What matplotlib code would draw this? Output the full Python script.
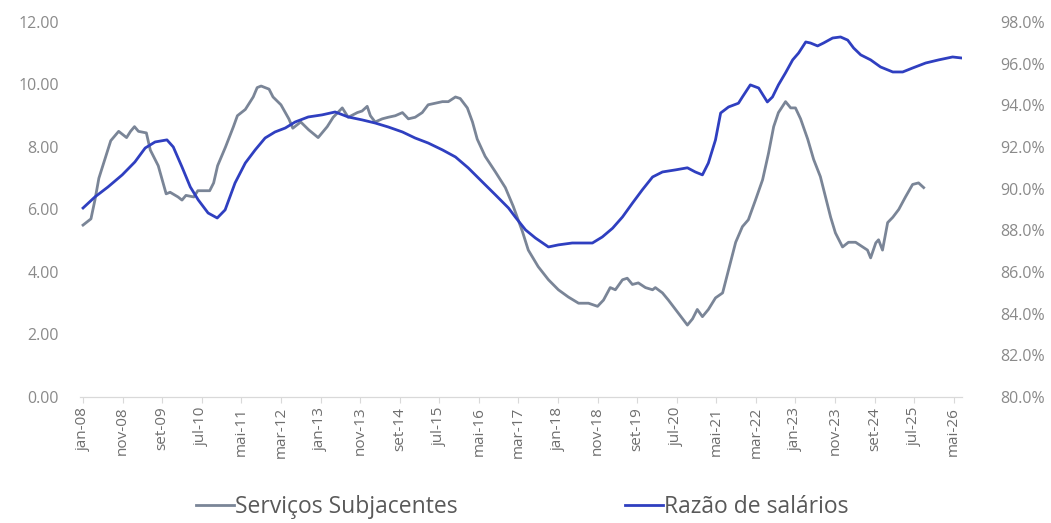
import matplotlib
matplotlib.use("Agg")
import matplotlib.pyplot as plt
from matplotlib.ticker import FuncFormatter

plt.rcParams["font.family"] = ["Open Sans", "DejaVu Sans"]

# month offsets from jan-08
servicos_x = [0, 2, 3, 4, 6, 7, 9, 10, 11, 12, 13, 14, 16, 17, 19, 20, 21, 22, 24, 25,
              26, 28, 29, 30, 32, 33, 34, 36, 38, 39, 41, 43, 44, 45, 47, 48, 50, 52, 53, 55,
              57, 59.4, 61.7, 63.2, 65.5, 67, 69.3, 70.5, 71.8, 72.6, 73.8, 75.6, 77.1, 78.9,
              80.7, 82.2, 83.9, 85.7, 87.2, 89, 90.8, 92.3, 94.1, 95.3, 97.1, 98.4, 99.6,
              101.6, 104.2, 106.7, 108.7, 111, 112.5, 115, 117.6, 120.1, 122.6, 125.2, 127.7,
              130, 131.5, 133.2, 134.5, 136.3, 137.5, 138.8, 140.3, 142.1, 143.9, 144.6,
              146.4, 147.9, 149.7, 151.5, 152.7, 154, 155.2, 156.5, 158, 159.8, 161.6, 163.1,
              164.9, 166.6, 168.1, 169.9, 171.7, 173.2, 174.5, 175.7, 177.5, 178.8, 180,
              181.3, 183.1, 184.6, 186.3, 187.6, 188.9, 190.1, 191.9, 193.4, 195.2, 197,
              198.2, 199, 200.3, 201, 202, 203.3, 204.6, 206.1, 207.8, 209.6, 211.1, 212.4]
servicos = [5.5, 5.7, 6.3, 7.0, 7.8, 8.2, 8.5, 8.4, 8.3, 8.5, 8.65, 8.5, 8.45, 7.9, 7.4, 6.95,
            6.5, 6.55, 6.4, 6.3, 6.45, 6.4, 6.6, 6.6, 6.6, 6.85, 7.4, 8.0, 8.65, 9.0, 9.2, 9.6,
            9.9, 9.95, 9.85, 9.6, 9.35, 8.9, 8.6, 8.8, 8.55, 8.3, 8.65, 8.95, 9.25, 8.95, 9.1,
            9.15, 9.3, 9.0, 8.8, 8.9, 8.95, 9.0, 9.1, 8.9, 8.95, 9.1, 9.35, 9.4, 9.45, 9.45,
            9.6, 9.55, 9.25, 8.8, 8.25, 7.7, 7.2, 6.7, 6.1, 5.3, 4.7, 4.17, 3.75, 3.43, 3.2,
            3.0, 3.0, 2.9, 3.1, 3.5, 3.43, 3.75, 3.8, 3.6, 3.65, 3.5, 3.43, 3.5, 3.33, 3.1,
            2.8, 2.5, 2.3, 2.5, 2.8, 2.57, 2.8, 3.17, 3.33, 4.07, 4.95, 5.45, 5.67, 6.3, 6.95,
            7.8, 8.65, 9.1, 9.45, 9.25, 9.25, 8.9, 8.25, 7.6, 7.05, 6.4, 5.75, 5.25, 4.8,
            4.95, 4.95, 4.8, 4.7, 4.45, 4.93, 5.03, 4.7, 5.58, 5.75, 6.0, 6.4, 6.8, 6.85, 6.7]

salarios_x = [0, 3, 6.3, 9.9, 13.1, 15.7, 18.2, 21.2, 22.8, 25, 27.1, 29.1, 31.6, 33.9, 35.9,
              38.4, 41, 43.5, 46, 48.5, 51.1, 53.6, 56.9, 60.4, 63.7, 67, 70.5, 73.8, 77.1,
              80.7, 83.9, 87.2, 90.8, 94.1, 97.3, 100.9, 104.2, 107.5, 109.2, 111.8, 114.3,
              117.6, 120.1, 123.6, 126.2, 128.7, 131.2, 133.8, 136.3, 138.8, 141.3, 143.9,
              146.4, 149.7, 152.7, 154.7, 156.5, 158, 159.8, 161.1, 163.1, 165.6, 166.6,
              168.6, 170.7, 172.9, 174.2, 175.7, 177.5, 179.3, 180.8, 182.6, 183.8, 185.6,
              187.1, 189.4, 191.4, 193.2, 194.7, 196.5, 199, 201.5, 204.6, 207.1, 209.6,
              212.9, 216.2, 219.7, 222]
salarios = [89.07, 89.6, 90.08, 90.66, 91.28, 91.95, 92.24, 92.34, 92.0, 91.04, 90.08, 89.46,
            88.83, 88.59, 88.98, 90.27, 91.23, 91.86, 92.43, 92.72, 92.91, 93.2, 93.44, 93.54,
            93.68, 93.44, 93.3, 93.15, 92.96, 92.72, 92.43, 92.19, 91.86, 91.52, 91.0, 90.32,
            89.7, 89.07, 88.64, 88.02, 87.63, 87.2, 87.3, 87.39, 87.39, 87.39, 87.68, 88.1,
            88.64, 89.3, 89.94, 90.56, 90.8, 90.9, 91.0, 90.8, 90.66, 91.23, 92.34, 93.63,
            93.92, 94.1, 94.4, 94.98, 94.83, 94.16, 94.4, 94.98, 95.56, 96.18, 96.51, 97.04,
            96.99, 96.85, 96.99, 97.23, 97.28, 97.13, 96.75, 96.42, 96.18, 95.84, 95.6, 95.6,
            95.79, 96.03, 96.18, 96.32, 96.27]

tick_pos = list(range(0, 221, 10))
tick_labels = ["jan-08", "nov-08", "set-09", "jul-10", "mai-11", "mar-12", "jan-13",
               "nov-13", "set-14", "jul-15", "mai-16", "mar-17", "jan-18", "nov-18",
               "set-19", "jul-20", "mai-21", "mar-22", "jan-23", "nov-23", "set-24",
               "jul-25", "mai-26"]

grey = "#7a8597"
blue = "#2f3fc0"
tick_col = "#8a8a8a"

fig = plt.figure(figsize=(10.51, 5.23), dpi=100)
ax = fig.add_axes([0.076, 0.241, 0.839, 0.717])
ax2 = ax.twinx()

l1, = ax.plot(servicos_x, servicos, color=grey, lw=2.0, label="Serviços Subjacentes")
l2, = ax2.plot(salarios_x, salarios, color=blue, lw=2.0, label="Razão de salários")

ax.set_ylim(0, 12)
ax.set_yticks(range(0, 13, 2))
ax.yaxis.set_major_formatter(FuncFormatter(lambda v, p: f"{v:.2f}"))
ax2.set_ylim(80, 98)
ax2.set_yticks(range(80, 99, 2))
ax2.yaxis.set_major_formatter(FuncFormatter(lambda v, p: f"{v:.1f}%"))

ax.set_xlim(-0.8, 222)
ax.set_xticks(tick_pos)
ax.set_xticklabels(tick_labels, rotation=90)

for a in (ax, ax2):
    for s in ["top", "left", "right"]:
        a.spines[s].set_visible(False)
    a.spines["bottom"].set_color("#d9d9d9")
    a.tick_params(axis="y", length=0, labelsize=11.5, labelcolor=tick_col)
ax.tick_params(axis="y", pad=15)
ax2.tick_params(axis="y", pad=28)
ax.tick_params(axis="x", length=4, color="#d9d9d9", labelsize=11,
               labelcolor="#6e6e6e", pad=3)

fig.legend(handles=[l1, l2], loc="lower center", bbox_to_anchor=(0.497, -0.032),
           ncol=2, frameon=False, fontsize=16.5, handlelength=1.65, handletextpad=0.05,
           columnspacing=7.3, labelcolor="#595959")

fig.savefig("out.png", dpi=100)
